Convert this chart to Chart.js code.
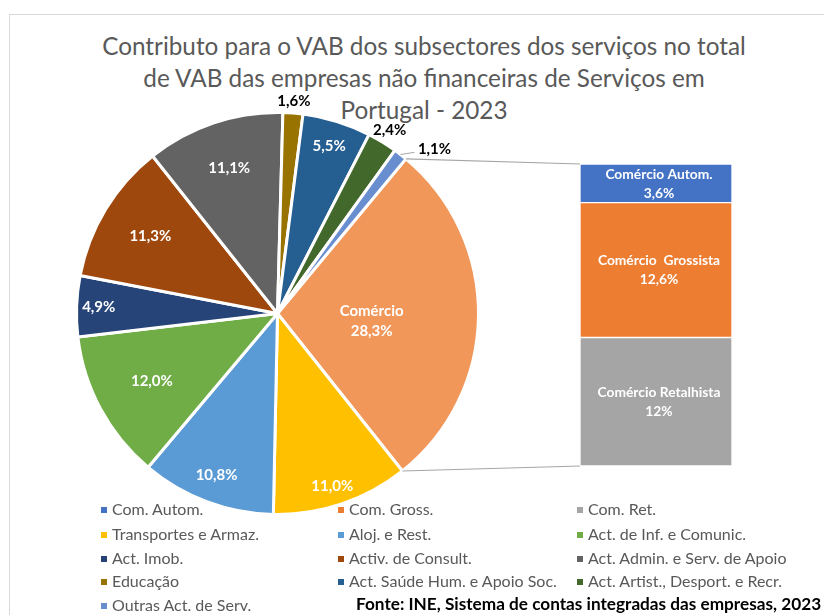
<!DOCTYPE html>
<html lang="pt">
<head>
<meta charset="UTF-8">
<title>Contributo para o VAB dos subsectores dos serviços</title>
<script src="https://cdn.jsdelivr.net/npm/chart.js"></script>
<style>
    body { margin: 0; background: #fff; font-family: Lato, "Open Sans", sans-serif; }
    #wrap { position: relative; width: 824px; height: 615px; overflow: hidden; }
    #frame { position: absolute; left: 9px; top: 14px; width: 830px; height: 620px; border: 1px solid #d9d9d9; box-sizing: border-box; }
    #title { position: absolute; left: 12px; width: 824px; top: 30px; text-align: center; color: #595959; font-size: 24.3px; line-height: 32px; }
    #pie { position: absolute; left: 0; top: 0; }
    #bar { position: absolute; left: 580px; top: 164px; }
    .leg { position: absolute; font-size: 16px; color: #595959; white-space: nowrap; line-height: 18px; }
    .leg i { display: inline-block; width: 6px; height: 6px; margin-right: 5px; vertical-align: 2px; }
    #fonte { position: absolute; left: 356px; top: 593px; font-size: 17.2px; font-weight: bold; color: #000; white-space: nowrap; }
</style>
</head>
<body>
<div id="wrap">
    <div id="frame"></div>
    <div id="title">Contributo para o VAB dos subsectores dos serviços no total<br>de VAB das empresas não financeiras de Serviços em<br>Portugal - 2023</div>
    <canvas id="pie" width="824" height="615"></canvas>
    <canvas id="bar" width="152" height="302"></canvas>
    <div id="legend"></div>
    <div id="fonte">Fonte: INE, Sistema de contas integradas das empresas, 2023</div>
</div>
<script>
// pie slices (Comércio is split in the bar on the right)
const pieLabels = ['Comércio', 'Transportes e Armaz.', 'Aloj. e Rest.', 'Act. de Inf. e Comunic.', 'Act. Imob.',
    'Activ. de Consult.', 'Act. Admin. e Serv. de Apoio', 'Educação', 'Act. Saúde Hum. e Apoio Soc.',
    'Act. Artist., Desport. e Recr.', 'Outras Act. de Serv.'];
const pieValues = [28.3, 11.0, 10.8, 12.0, 4.9, 11.3, 11.1, 1.6, 5.5, 2.4, 1.1];
const pieColors = ['#F1975A', '#FFC000', '#5B9BD5', '#70AD47', '#264478', '#9E480E', '#636363', '#997300', '#255E91', '#43682B', '#698ED0'];

// breakdown of Comércio
const barLabels = ['Comércio Retalhista', 'Comércio  Grossista', 'Comércio Autom.'];
const barValues = [12, 12.6, 3.6];
const barText = ['12%', '12,6%', '3,6%'];
const barColors = ['#A5A5A5', '#ED7D31', '#4472C4'];

// legend entries
const legendLabels = ['Com. Autom.', 'Com. Gross.', 'Com. Ret.', 'Transportes e Armaz.', 'Aloj. e Rest.',
    'Act. de Inf. e Comunic.', 'Act. Imob.', 'Activ. de Consult.', 'Act. Admin. e Serv. de Apoio',
    'Educação', 'Act. Saúde Hum. e Apoio Soc.', 'Act. Artist., Desport. e Recr.', 'Outras Act. de Serv.'];
const legendColors = ['#4472C4', '#ED7D31', '#A5A5A5'].concat(pieColors.slice(1));

// label placement (fraction of radius, angle shift in degrees)
const labelR = [0.47, 0.9, 0.86, 0.71, 0.89, 0.74, 0.76, 1.06, 0.87, 1.07, 1.13];
const labelShift = [4, 1, 0, 0, 0, 0, 0, 0, 0, 0, 6];
const fmt = v => v.toFixed(1).replace('.', ',') + '%';

// legend
const legend = document.getElementById('legend');
const colX = [101, 338, 577];
const rowY = [500, 525, 549, 572, 596];
legendLabels.forEach(function(t, i) {
    const d = document.createElement('div');
    d.className = 'leg';
    d.style.left = colX[i % 3] + 'px';
    d.style.top = rowY[Math.floor(i / 3)] + 'px';
    d.innerHTML = '<i style="background:' + legendColors[i] + '"></i>' + t;
    legend.appendChild(d);
});

const barLabelPlugin = {
    id: 'barLabels',
    afterDatasetsDraw(chart) {
        const ctx = chart.ctx;
        ctx.save();
        ctx.fillStyle = '#fff';
        ctx.font = 'bold 13.8px Lato, sans-serif';
        ctx.textAlign = 'center';
        ctx.textBaseline = 'middle';
        chart.data.datasets.forEach(function(ds, i) {
            const el = chart.getDatasetMeta(i).data[0];
            const cy = (el.y + el.base) / 2;
            ctx.fillText(barLabels[i], el.x + 3, cy - 9);
            ctx.fillText(barText[i], el.x + 3, cy + 10);
        });
        ctx.restore();
    }
};

const barChart = new Chart(document.getElementById('bar'), {
    type: 'bar',
    data: {
        labels: ['Comércio'],
        datasets: barValues.map(function(v, i) {
            return { label: barLabels[i], data: [v], backgroundColor: barColors[i], borderColor: '#fff', borderWidth: 1, borderSkipped: false };
        })
    },
    options: {
        responsive: false,
        animation: false,
        datasets: { bar: { barPercentage: 1, categoryPercentage: 1 } },
        scales: {
            x: { display: false, stacked: true },
            y: { display: false, stacked: true, min: 0, max: 28.2 }
        },
        plugins: { legend: { display: false }, tooltip: { enabled: false } }
    },
    plugins: [barLabelPlugin]
});

const pieExtras = {
    id: 'pieExtras',
    afterDatasetsDraw(chart) {
        const ctx = chart.ctx;
        const arcs = chart.getDatasetMeta(0).data;
        ctx.save();
        // connector lines to the bar
        const bc = barChart.canvas;
        const top = barChart.getDatasetMeta(2).data[0];
        const bot = barChart.getDatasetMeta(0).data[0];
        const bx = bc.offsetLeft + top.x - top.width / 2;
        const c = arcs[0];
        ctx.strokeStyle = '#a6a6a6';
        ctx.lineWidth = 1.2;
        ctx.beginPath();
        ctx.moveTo(c.x + Math.cos(c.startAngle) * c.outerRadius, c.y + Math.sin(c.startAngle) * c.outerRadius);
        ctx.lineTo(bx, bc.offsetTop + top.y);
        ctx.moveTo(c.x + Math.cos(c.endAngle) * c.outerRadius, c.y + Math.sin(c.endAngle) * c.outerRadius);
        ctx.lineTo(bx, bc.offsetTop + bot.base);
        ctx.stroke();
        // data labels
        ctx.textAlign = 'center';
        ctx.textBaseline = 'middle';
        ctx.font = 'bold 15px Lato, sans-serif';
        arcs.forEach(function(a, i) {
            const m = (a.startAngle + a.endAngle) / 2 + labelShift[i] * Math.PI / 180;
            const d = a.outerRadius * labelR[i];
            const x = a.x + Math.cos(m) * d, y = a.y + Math.sin(m) * d;
            const outside = labelR[i] > 1;
            ctx.fillStyle = outside ? '#000' : '#fff';
            if (i === 0) {
                ctx.fillText(pieLabels[0], x, y - 10);
                ctx.fillText(fmt(pieValues[0]), x, y + 10);
            } else {
                ctx.fillText(fmt(pieValues[i]), x, y);
            }
            if (labelShift[i] > 3 && outside) {
                const mm = (a.startAngle + a.endAngle) / 2;
                ctx.strokeStyle = '#a6a6a6';
                ctx.lineWidth = 1;
                ctx.beginPath();
                ctx.moveTo(a.x + Math.cos(mm) * a.outerRadius, a.y + Math.sin(mm) * a.outerRadius);
                ctx.lineTo(x - 20, y + 3);
                ctx.stroke();
            }
        });
        ctx.restore();
    }
};

new Chart(document.getElementById('pie'), {
    type: 'pie',
    data: {
        labels: pieLabels,
        datasets: [{ data: pieValues, backgroundColor: pieColors, borderColor: '#fff', borderWidth: 3 }]
    },
    options: {
        responsive: false,
        animation: false,
        rotation: 39.7,
        layout: { padding: { left: 75, top: 111, right: 344, bottom: 99 } },
        plugins: { legend: { display: false }, tooltip: { enabled: false } }
    },
    plugins: [pieExtras]
});
</script>
</body>
</html>
